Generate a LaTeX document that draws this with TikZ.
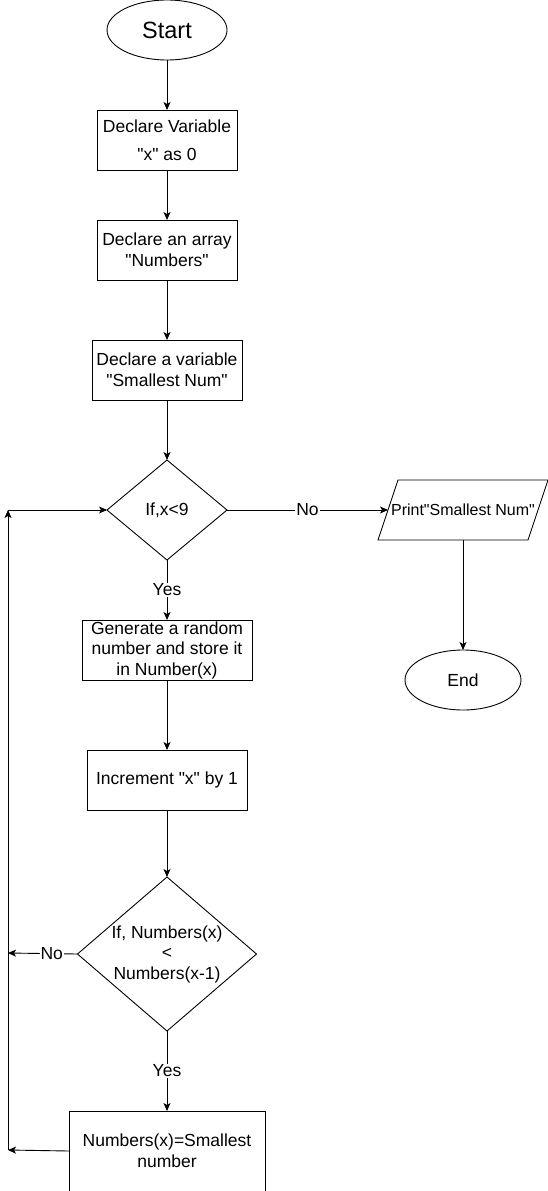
\documentclass[tikz,border=0pt]{standalone}
\usepackage{fontspec}
\setmainfont{Liberation Sans}[Ligatures=TeXOff]
\usetikzlibrary{positioning, shapes.geometric, arrows.meta}

\begin{document}
\begin{tikzpicture}[>={Stealth[length=8pt, width=7pt, inset=2pt]}, x=1pt, y=-1pt, line width=0.9pt,
    every node/.style={outer sep=0pt},
    process/.style={draw, rectangle, minimum height=60pt, inner xsep=2pt, inner ysep=0pt, align=center, font=\fontsize{17.5}{21}\selectfont},
    decision/.style={draw, diamond, inner sep=0pt, align=center, font=\fontsize{17.5}{21}\selectfont},
    terminal/.style={draw, ellipse, minimum height=60pt, inner sep=0pt, font=\fontsize{17.5}{21}\selectfont},
    lbl/.style={fill=white, inner sep=1pt, font=\fontsize{17.5}{21}\selectfont}]
    \useasboundingbox (0,0) rectangle (548,1191);
    % main column
    \node (start) [terminal, minimum width=120pt, font=\fontsize{23.5}{28}\selectfont] at (167,30) {Start};
    \node (var) [process, minimum width=140pt, below=50pt of start, font=\fontsize{17.5}{28}\selectfont] {Declare Variable\\"x" as 0};
    \node (arr) [process, minimum width=140pt, below=50pt of var] {Declare an array\\"Numbers"};
    \node (small) [process, minimum width=150pt, below=60pt of arr] {Declare a variable\\"Smallest Num"};
    \node (ifx) [decision, minimum width=120pt, minimum height=100pt, aspect=1.2, below=60pt of small] {If,x<9};
    \node (gen) [process, minimum width=170pt, below=60pt of ifx, font=\fontsize{17.5}{20.5}\selectfont] {Generate a random\\number and store it\\in Number(x)};
    \node (inc) [process, minimum width=160pt, below=70pt of gen] {Increment "x" by 1};
    \node (ifnum) [decision, minimum width=179pt, minimum height=154pt, aspect=1.16, below=67pt of inc, font=\fontsize{17.5}{20.5}\selectfont] {If, Numbers(x)\\<\\Numbers(x-1)};
    \node (setsmall) [process, minimum width=196pt, minimum height=80pt, below=80pt of ifnum] {Numbers(x)=Smallest\\number};
    % right column
    \node (print) [rectangle, minimum width=150pt, minimum height=60pt, inner sep=1pt, right=161pt of ifx, font=\fontsize{16}{19}\selectfont] {Print"Smallest Num"};
    \draw ([xshift=10pt]print.north west) -- ([xshift=10pt]print.north east)
      -- ([xshift=-10pt]print.south east) -- ([xshift=-10pt]print.south west) -- cycle;
    \node (finish) [terminal, minimum width=116pt, below=110pt of print] {End};
    % loop back
    \coordinate (loopbot) at (8,1150);
    \coordinate (nojoin) at (8,953);
    \coordinate (looptop) at (8,510);
    \draw[->] (start) -- (var);
    \draw[->] (var) -- (arr);
    \draw[->] (arr) -- (small);
    \draw[->] (small) -- (ifx);
    \draw[->] (ifx) -- node[lbl] {Yes} (gen);
    \draw[->] (gen) -- (inc);
    \draw[->] (inc) -- (ifnum);
    \draw[->] (ifnum) -- node[lbl] {Yes} (setsmall);
    \draw[->] (ifx) -- node[lbl] {No} (print);
    \draw[->] (print) -- (finish);
    \draw[->] (setsmall.west) -- (loopbot);
    \draw[->] (ifnum.west) -- node[lbl, pos=0.37] {No} (nojoin);
    \draw[->] (loopbot) -- (looptop);
    \draw[->] (looptop) -- (ifx.west);
\end{tikzpicture}
\end{document}
